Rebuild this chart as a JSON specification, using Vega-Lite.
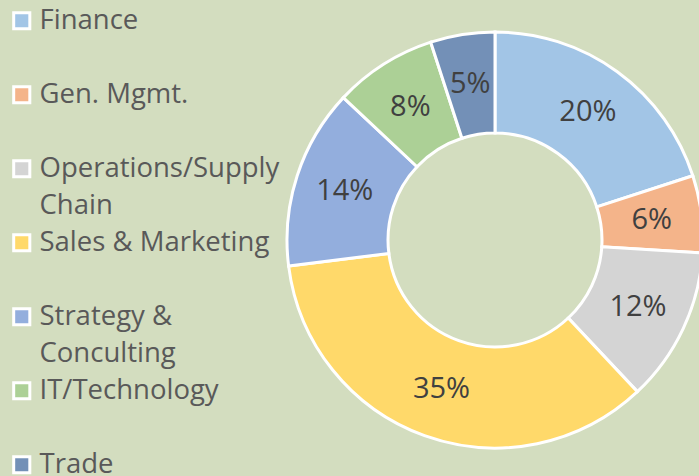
{
  "$schema": "https://vega.github.io/schema/vega-lite/v6.json",
  "width": 416,
  "height": 416,
  "autosize": {"type": "none"},
  "padding": {"left": 287, "top": 32, "right": 0, "bottom": 28},
  "background": "#d3ddbf",
  "config": {"view": {"stroke": null}},
  "data": {
    "values": [
      {"idx": 1, "category": "Finance", "share": 0.20},
      {"idx": 2, "category": "Gen. Mgmt.", "share": 0.06},
      {"idx": 3, "category": "Operations/Supply Chain", "share": 0.12},
      {"idx": 4, "category": "Sales & Marketing", "share": 0.35},
      {"idx": 5, "category": "Strategy & Conculting", "share": 0.14},
      {"idx": 6, "category": "IT/Technology", "share": 0.08},
      {"idx": 7, "category": "Trade", "share": 0.05}
    ]
  },
  "encoding": {
    "theta": {"field": "share", "type": "quantitative", "stack": true},
    "order": {"field": "idx", "type": "quantitative"}
  },
  "layer": [
    {
      "mark": {"type": "arc", "innerRadius": 107, "outerRadius": 208, "stroke": "white", "strokeWidth": 3},
      "encoding": {
        "color": {
          "field": "category",
          "type": "nominal",
          "sort": null,
          "scale": {
            "domain": ["Finance", "Gen. Mgmt.", "Operations/Supply Chain", "Sales & Marketing", "Strategy & Conculting", "IT/Technology", "Trade"],
            "range": ["#a2c5e6", "#f4b48a", "#d4d4d4", "#ffd96a", "#93aedd", "#acd096", "#7390b7"]
          },
          "legend": {
            "title": null,
            "orient": "none",
            "legendX": -279,
            "legendY": -25,
            "symbolType": "square",
            "symbolSize": 260,
            "symbolStrokeColor": "white",
            "symbolStrokeWidth": 3,
            "symbolOpacity": 1,
            "labelFont": "Open Sans",
            "labelFontSize": 27.5,
            "labelColor": "#595959",
            "labelLimit": 400,
            "labelOffset": 4,
            "labelBaseline": "middle",
            "rowPadding": 8,
            "labelExpr": "datum.label == 'Operations/Supply Chain' ? ['Operations/Supply', 'Chain'] : datum.label == 'Strategy & Conculting' ? ['Strategy &', 'Conculting'] : [datum.label, '']",
            "encode": {
              "labels": {"update": {"lineHeight": {"value": 37}}}
            }
          }
        }
      }
    },
    {
      "mark": {"type": "text", "radius": 158, "font": "Open Sans", "fontSize": 29, "fill": "#404040", "align": "center", "baseline": "middle"},
      "encoding": {
        "text": {"field": "share", "type": "quantitative", "format": ".0%"}
      }
    }
  ]
}
